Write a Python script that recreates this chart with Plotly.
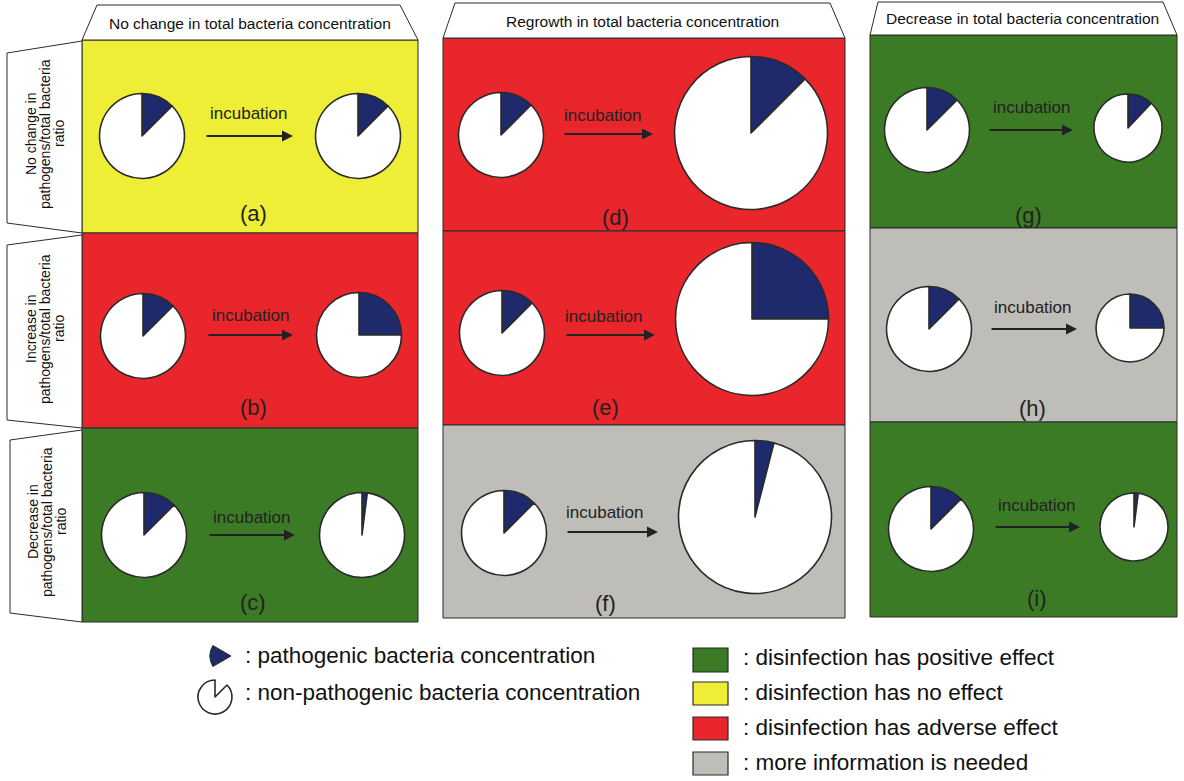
import plotly.graph_objects as go

# ---------------- data ----------------
col_titles = ["No change in total bacteria concentration",
              "Regrowth in total bacteria concentration",
              "Decrease in total bacteria concentration"]
row_title_lines = [["No change in", "pathogens/total bacteria", "ratio"],
                   ["Increase in", "pathogens/total bacteria", "ratio"],
                   ["Decrease in", "pathogens/total bacteria", "ratio"]]
panel_labels = ["(a)", "(b)", "(c)", "(d)", "(e)", "(f)", "(g)", "(h)", "(i)"]  # column-major
pathogen_share_before = [0.125, 0.125, 0.125, 0.125, 0.125, 0.125, 0.125, 0.125, 0.125]
pathogen_share_after = [0.125, 0.25, 0.02, 0.125, 0.25, 0.04, 0.12, 0.25, 0.02]
total_after_rel = [1.0, 1.0, 1.0, 1.8, 1.8, 1.8, 0.8, 0.8, 0.8]  # relative pie size after incubation
panel_effect = ["none", "adverse", "positive",
                "adverse", "adverse", "more",
                "positive", "more", "positive"]
effect_keys = ["positive", "none", "adverse", "more"]
effect_labels = [": disinfection has positive effect",
                 ": disinfection has no effect",
                 ": disinfection has adverse effect",
                 ": more information is needed"]
arrow_text = "incubation"
pie_legend_labels = [": pathogenic bacteria concentration",
                     ": non-pathogenic bacteria concentration"]

# ---------------- style / layout ----------------
W, H = 1184, 781
FONT = "Arial, Liberation Sans, sans-serif"
effect_colors = {"positive": "#3c7b25", "none": "#eeee36", "adverse": "#e8262b", "more": "#bebdb8"}
NAVY = "#1f2a6c"
EDGE = "#2a2a2a"

col_x = [(82, 418), (443, 845), (870, 1177)]
row_y = [[40, 233, 428, 622], [38, 231, 425, 618], [35, 228, 422, 617]]
left_c = [(142, 136), (143, 336), (144, 535), (501, 135), (502, 333), (504, 533),
          (927, 130), (929, 329), (931, 529)]
right_c = [(358, 136), (359, 335), (362, 535), (751, 133), (752, 319), (755, 517),
           (1128, 128), (1130, 328), (1134, 527)]
BASE_R = 42.5
arrows = [(205, 293, 136), (207, 293, 335), (208, 295, 535), (563, 653, 134), (565, 655, 335),
          (566, 658, 532), (988, 1073, 130), (990, 1077, 329), (994, 1080, 527)]
arrow_txt_pos = [(249, 113), (251, 315), (252, 517), (603, 115), (604, 316), (605, 512),
                 (1032, 107), (1033, 307), (1037, 505)]
label_pos = [(253, 213), (253, 407), (253, 602), (615, 217), (605, 407), (605, 603),
             (1028, 215), (1032, 408), (1037, 598)]
col_tabs = [[(82, 40), (97, 5), (400, 5), (418, 40)],
            [(443, 38), (455, 3), (830, 3), (845, 38)],
            [(870, 35), (878, 2), (1163, 2), (1177, 35)]]
col_tab_text = [(250, 23), (642, 21), (1022, 18)]
row_tabs = [[(82, 41), (7, 53), (7, 223), (82, 233)],
            [(82, 235), (7, 245), (7, 420), (82, 428)],
            [(82, 430), (10, 440), (10, 613), (82, 622)]]
row_text_c = [(45, 134), (45, 329), (47, 522)]


def poly(pts):
    return "M " + " L ".join(f"{x},{y}" for x, y in pts) + " Z"


def pie(cx, cy, r, share, colors, widths, rotation=0):
    return go.Pie(
        values=[share, 1 - share], sort=False, direction="clockwise", rotation=rotation,
        marker=dict(colors=colors, line=dict(color=[EDGE, EDGE], width=widths)),
        textinfo="none", hoverinfo="skip", showlegend=False,
        domain=dict(x=[(cx - r) / W, (cx + r) / W], y=[1 - (cy + r) / H, 1 - (cy - r) / H]),
    )


fig = go.Figure()
fig.add_trace(go.Scatter(x=[0, W], y=[0, H], mode="markers", marker=dict(opacity=0),
                         hoverinfo="skip", showlegend=False))

shapes = []
annotations = []

# panels
for c in range(3):
    x0, x1 = col_x[c]
    for r in range(3):
        k = c * 3 + r
        shapes.append(dict(type="rect", xref="x", yref="y", x0=x0, x1=x1,
                           y0=row_y[c][r], y1=row_y[c][r + 1],
                           fillcolor=effect_colors[panel_effect[k]],
                           line=dict(color=EDGE, width=1), layer="below"))
    # column tab
    shapes.append(dict(type="path", xref="x", yref="y", path=poly(col_tabs[c]),
                       fillcolor="white", line=dict(color=EDGE, width=1), layer="below"))
    tx, ty = col_tab_text[c]
    annotations.append(dict(x=tx, y=ty, xref="x", yref="y", text=col_titles[c], showarrow=False,
                            font=dict(family=FONT, size=15.5, color="#111")))

# row tabs
for r in range(3):
    shapes.append(dict(type="path", xref="x", yref="y", path=poly(row_tabs[r]),
                       fillcolor="white", line=dict(color=EDGE, width=1), layer="below"))
    cx, cy = row_text_c[r]
    for j, line in enumerate(row_title_lines[r]):
        annotations.append(dict(x=cx + (j - 1) * 14, y=cy, xref="x", yref="y", text=line,
                                textangle=-90, showarrow=False,
                                font=dict(family=FONT, size=14, color="#111")))

# pies, arrows, labels
for k in range(9):
    lx, ly = left_c[k]
    fig.add_trace(pie(lx, ly, BASE_R, pathogen_share_before[k], [NAVY, "white"], [1.6, 1.6]))
    rx, ry = right_c[k]
    fig.add_trace(pie(rx, ry, BASE_R * total_after_rel[k], pathogen_share_after[k],
                      [NAVY, "white"], [1.6, 1.6]))
    ax0, ax1, ay = arrows[k]
    annotations.append(dict(x=ax1, y=ay, ax=ax0, ay=ay, xref="x", yref="y", axref="x", ayref="y",
                            text="", showarrow=True, arrowhead=2, arrowsize=1.1, arrowwidth=2,
                            arrowcolor="#222", standoff=0))
    tx, ty = arrow_txt_pos[k]
    annotations.append(dict(x=tx, y=ty, xref="x", yref="y", text=arrow_text, showarrow=False,
                            font=dict(family=FONT, size=17, color="#222")))
    px, py = label_pos[k]
    annotations.append(dict(x=px, y=py, xref="x", yref="y", text=panel_labels[k], showarrow=False,
                            font=dict(family=FONT, size=22, color="#222")))

# pie legend
fig.add_trace(pie(231, 656, 21, 1 / 6, [NAVY, "rgba(0,0,0,0)"], [1, 0], rotation=240))
fig.add_trace(pie(215, 697, 17, 1 / 8, ["rgba(0,0,0,0)", "white"], [0, 1.6]))
for j, (txt, yy) in enumerate(zip(pie_legend_labels, [655, 692])):
    annotations.append(dict(x=243, y=yy, xref="x", yref="y", text=txt, showarrow=False,
                            xanchor="left", font=dict(family=FONT, size=22.5, color="#111")))

# color legend
sq_y = [(648, 672), (682, 705), (717, 740), (752, 775)]
txt_y = [657, 692, 727, 762]
for j, key in enumerate(effect_keys):
    shapes.append(dict(type="rect", xref="x", yref="y", x0=693, x1=728, y0=sq_y[j][0], y1=sq_y[j][1],
                       fillcolor=effect_colors[key], line=dict(color=EDGE, width=1.2), layer="below"))
    annotations.append(dict(x=741, y=txt_y[j], xref="x", yref="y", text=effect_labels[j],
                            showarrow=False, xanchor="left",
                            font=dict(family=FONT, size=22.5, color="#111")))

fig.update_layout(
    width=W, height=H, autosize=False,
    margin=dict(l=0, r=0, t=0, b=0),
    paper_bgcolor="white", plot_bgcolor="white",
    xaxis=dict(range=[0, W], visible=False, fixedrange=True),
    yaxis=dict(range=[H, 0], visible=False, fixedrange=True),
    shapes=shapes, annotations=annotations, showlegend=False,
)

fig.write_html("out.html", config={"displayModeBar": False},
               post_script="document.body.style.margin='0';document.body.style.overflow='hidden';")
